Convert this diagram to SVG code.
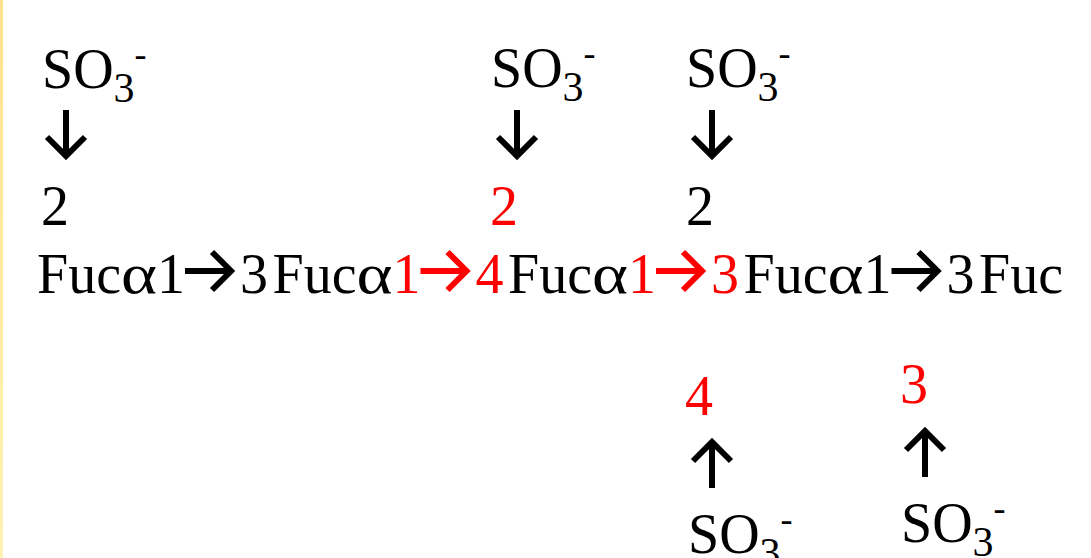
<svg xmlns="http://www.w3.org/2000/svg" width="1091" height="558" viewBox="0 0 1091 558">
<style>
.t{font-family:"Liberation Serif","Times New Roman",serif;font-size:56px;fill:#000}
.r{fill:#FF0000}
.sub{font-size:42px}
.sup{font-size:36px}
.a{fill:none;stroke:#000;stroke-width:6;stroke-linejoin:miter;stroke-linecap:butt}
.ar{stroke:#FF0000}
</style>
<defs>
<linearGradient id="yl" x1="0" y1="0" x2="0" y2="1">
<stop offset="0" stop-color="#FFE28C"/>
<stop offset="1" stop-color="#FFF3B4"/>
</linearGradient>
<path id="arr" d="M0 0 H44 M27 -19 L46 0 L27 19"/>
</defs>
<rect width="1091" height="558" fill="#FFFFFF"/>
<rect x="0" y="0" width="3" height="558" fill="url(#yl)"/>

<g id="main-chain">
<text class="t" y="293"><tspan x="37">Fuc</tspan><tspan x="121" textLength="36" lengthAdjust="spacingAndGlyphs">α</tspan><tspan x="157">1</tspan><tspan x="240">3</tspan><tspan x="272.5">Fuc</tspan><tspan x="356.5" textLength="36" lengthAdjust="spacingAndGlyphs">α</tspan><tspan x="392.5" class="r">1</tspan><tspan x="475.5" class="r">4</tspan><tspan x="508">Fuc</tspan><tspan x="592" textLength="36" lengthAdjust="spacingAndGlyphs">α</tspan><tspan x="628" class="r">1</tspan><tspan x="711" class="r">3</tspan><tspan x="743.5">Fuc</tspan><tspan x="827.5" textLength="36" lengthAdjust="spacingAndGlyphs">α</tspan><tspan x="863.5">1</tspan><tspan x="946.5">3</tspan><tspan x="979">Fuc</tspan></text>
</g>

<g id="top-1">
<text class="t" x="42" y="88">SO<tspan class="sub" dy="14">3</tspan><tspan class="sup" dy="-36">-</tspan></text>
<text class="t" x="41" y="225">2</text>
</g>
<g id="top-2">
<text class="t" x="491" y="87">SO<tspan class="sub" dy="14">3</tspan><tspan class="sup" dy="-36">-</tspan></text>
<text class="t r" x="490" y="225">2</text>
</g>
<g id="top-3">
<text class="t" x="686" y="87">SO<tspan class="sub" dy="14">3</tspan><tspan class="sup" dy="-36">-</tspan></text>
<text class="t" x="686" y="225">2</text>
</g>
<g id="bottom-1">
<text class="t r" x="685" y="415">4</text>
<text class="t" x="688" y="553">SO<tspan class="sub" dy="14">3</tspan><tspan class="sup" dy="-36">-</tspan></text>
</g>
<g id="bottom-2">
<text class="t r" x="900" y="403">3</text>
<text class="t" x="901" y="542">SO<tspan class="sub" dy="14">3</tspan><tspan class="sup" dy="-36">-</tspan></text>
</g>

<g id="connectors">
<use href="#arr" class="a" transform="translate(185 271)"/>
<use href="#arr" class="a ar" transform="translate(420.5 271)"/>
<use href="#arr" class="a ar" transform="translate(656 271)"/>
<use href="#arr" class="a" transform="translate(891.5 271)"/>
<use href="#arr" class="a" transform="translate(66 110) rotate(90)"/>
<use href="#arr" class="a" transform="translate(517 110) rotate(90)"/>
<use href="#arr" class="a" transform="translate(712 110) rotate(90)"/>
<use href="#arr" class="a" transform="translate(712 488) rotate(-90)"/>
<use href="#arr" class="a" transform="translate(925 477) rotate(-90)"/>
</g>
</svg>
